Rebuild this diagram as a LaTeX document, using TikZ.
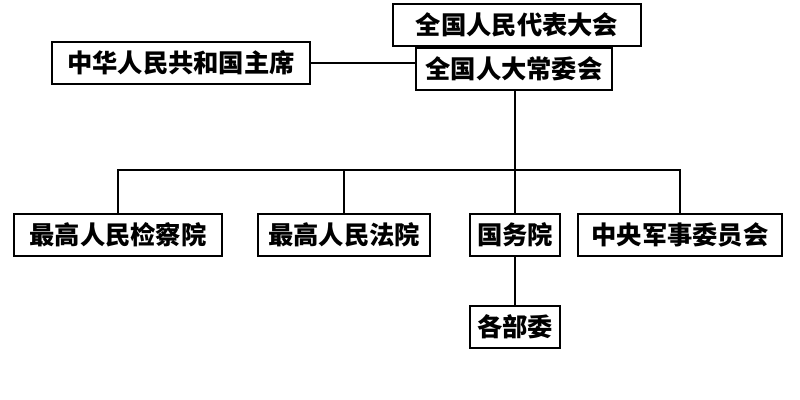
\documentclass[tikz,border=0pt]{standalone}
\usepackage{fontspec}
\newfontfamily\cjk{Noto Sans CJK SC}
\begin{document}
\begin{tikzpicture}[x=0.025cm,y=-0.025cm,
	org/.style={draw=black, line width=1.6pt, inner sep=0pt, minimum height=1.05cm,
		font=\cjk\bfseries\fontsize{18pt}{20pt}\selectfont},
	link/.style={draw=black, line width=1.4pt}]
		\useasboundingbox[fill=white] (0,0) rectangle (800,400);
		\node[org, minimum width=6.2cm] (npc) at (517,25) {全国人民代表大会};
		\node[org, minimum width=4.9cm] (npcsc) at (514,69) {全国人大常委会};
		\node[org, minimum width=6.45cm] (pres) at (181,63) {中华人民共和国主席};
		\node[org, minimum width=5.2cm] (proc) at (118,235) {最高人民检察院};
		\node[org, minimum width=4.3cm] (court) at (344,235) {最高人民法院};
		\node[org, minimum width=2.25cm] (state) at (515,235) {国务院};
		\node[org, minimum width=5.1cm] (cmc) at (680,235) {中央军事委员会};
		\node[org, minimum width=2.25cm] (mins) at (515,327) {各部委};
		\coordinate (hub) at (515,170);
		\draw[link] (pres.east) -- (npcsc.west |- pres.east);
		\draw[link] (npcsc.south -| hub) -- (hub);
		\draw[link] (proc.north) |- (cmc.north |- hub) -- (cmc.north);
		\draw[link] (court.north) -- (court.north |- hub);
		\draw[link] (hub) -- (state.north);
		\draw[link] (state.south) -- (mins.north);
	\end{tikzpicture}
\end{document}
